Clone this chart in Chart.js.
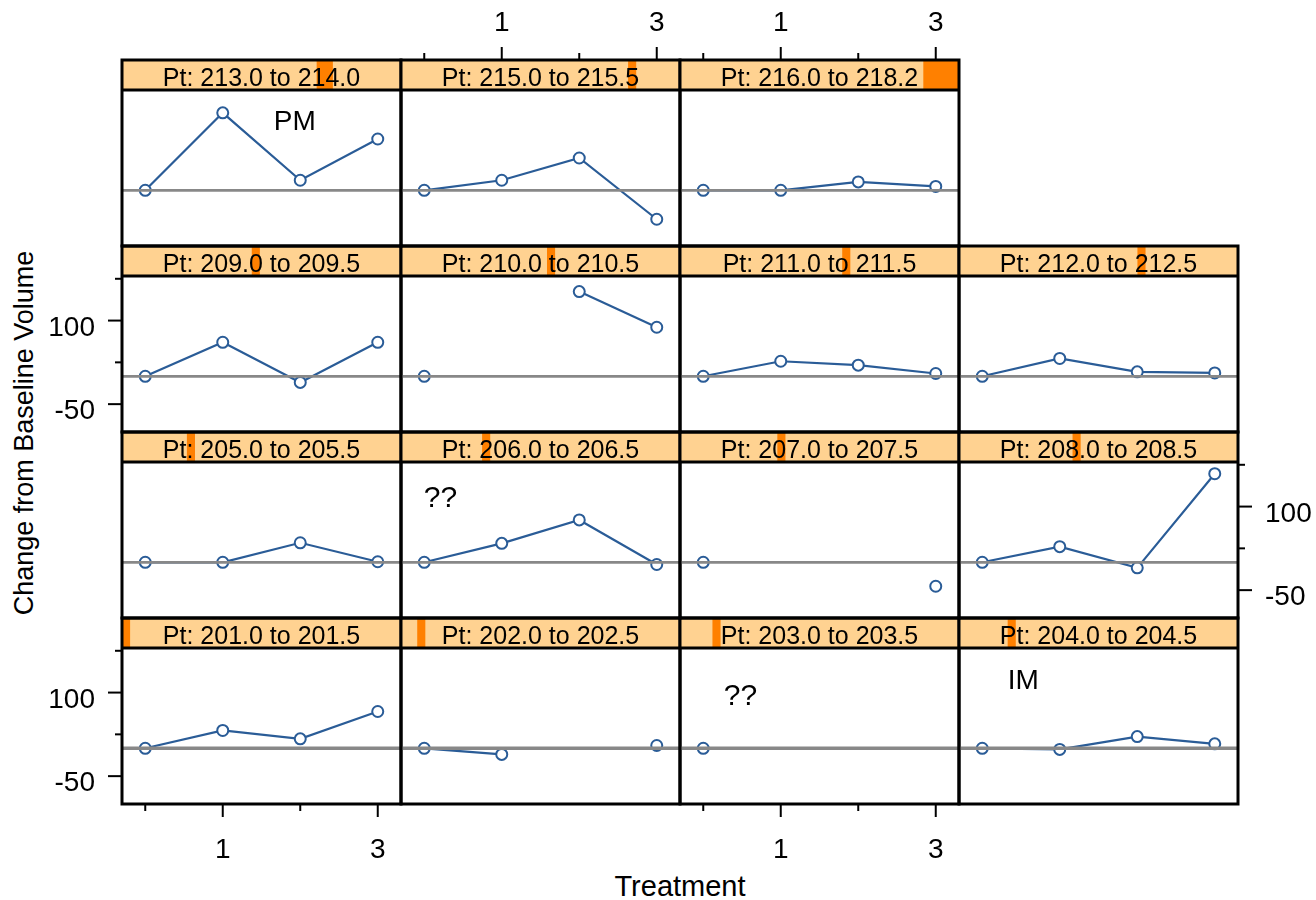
<!DOCTYPE html>
<html>
<head>
<meta charset="utf-8">
<script src="https://cdn.jsdelivr.net/npm/chart.js@4.4.1/dist/chart.umd.min.js"></script>
<style>
  html, body { margin: 0; padding: 0; background: #fff; overflow: hidden; }
  #wrap { position: relative; width: 1316px; height: 900px; }
  #wrap canvas { position: absolute; }
  .axis-title { position: absolute; font-family: 'Liberation Sans', Arial, sans-serif; color: #000; white-space: nowrap; }
  #xTitle { font-size: 29px; line-height: 29px; left: 680px; top: 872px; transform: translateX(-50%); }
  #yTitle { font-size: 27px; line-height: 27px; left: 24px; top: 433px; transform: translate(-50%, -50%) rotate(-90deg); }
</style>
</head>
<body>
<div id="wrap">
  <div class="axis-title" id="xTitle">Treatment</div>
  <div class="axis-title" id="yTitle">Change from Baseline Volume</div>
</div>
<script>
// treatment levels on x, labelled ticks only at 1 and 3
const treatment = [0, 1, 2, 3];
const xTickLabels = ['', '1', '', '3'];
const yTickValues = [-50, 25, 100, 175];
const yTickLabels = ['-50', '', '100', ''];

// shingle intervals for Pt (panel order: bottom-left first, like lattice)
const ptFrom = [201.0, 202.0, 203.0, 204.0, 205.0, 206.0, 207.0, 208.0, 209.0, 210.0, 211.0, 212.0, 213.0, 215.0, 216.0];
const ptTo   = [201.5, 202.5, 203.5, 204.5, 205.5, 206.5, 207.5, 208.5, 209.5, 210.5, 211.5, 212.5, 214.0, 215.5, 218.2];
const ptRange = [201.0, 218.2];

// change from baseline volume at treatment 0..3 (null = missing)
const pt201 = [0, 32, 17, 66];
const pt202 = [0, -11, null, 5];
const pt203 = [0, null, null, null];
const pt204 = [0, -2, 21, 8];
const pt205 = [0, 0, 35, 1];
const pt206 = [0, 34, 76, -4];
const pt207 = [0, null, null, -43];
const pt208 = [0, 28, -10, 159];
const pt209 = [0, 61, -11, 61];
const pt210 = [0, null, 152, 88];
const pt211 = [0, 27, 20, 5];
const pt212 = [0, 32, 8, 6];
const pt213 = [0, 139, 18, 92];
const pt215 = [0, 18, 58, -52];
const pt216 = [0, 0, 15, 7];
const panelValues = [pt201, pt202, pt203, pt204, pt205, pt206, pt207, pt208,
                     pt209, pt210, pt211, pt212, pt213, pt215, pt216];
const refLine = 0;

// text notes written into some panels
const notes = {
  3:  { text: 'IM', x: 0.53, y: 121, size: 28 },
  2:  { text: '??', x: 0.48, y: 92, size: 30 },
  5:  { text: '??', x: 0.21, y: 114, size: 30 },
  12: { text: 'PM', x: 1.93, y: 122, size: 28 }
};
// which outer axes each panel carries
const outerAxes = { 0: ['left', 'bottom'], 2: ['bottom'], 7: ['right'], 8: ['left'], 13: ['top'], 14: ['top'] };

const X_MIN = -0.3, X_MAX = 3.3, Y_MIN = -100, Y_MAX = 180;
const M = 80, STRIP_H = 30, PANEL_H = 156, PANEL_W = 279, LEFT0 = 122;
const stripTops = [618, 432, 246, 60]; // by row counted from bottom
const FONT = '"Liberation Sans", Arial, sans-serif';
const LINE_COL = '#2A5C97', ZERO_COL = '#888888';
const STRIP_BG = '#FFD291', STRIP_FG = '#FF8000';

function drawAxes(chart, sides) {
  const { ctx, chartArea: a, scales } = chart;
  ctx.strokeStyle = '#000';
  ctx.fillStyle = '#000';
  ctx.lineWidth = 2;
  ctx.font = '28px ' + FONT;
  ctx.textBaseline = 'alphabetic';
  const seg = (x1, y1, x2, y2) => { ctx.beginPath(); ctx.moveTo(x1, y1); ctx.lineTo(x2, y2); ctx.stroke(); };
  sides.forEach(side => {
    if (side === 'top' || side === 'bottom') {
      const y0 = side === 'top' ? a.top - STRIP_H : a.bottom;
      const dir = side === 'top' ? -1 : 1;
      ctx.textAlign = 'center';
      treatment.forEach((t, j) => {
        const px = scales.x.getPixelForValue(t);
        seg(px, y0, px, y0 + dir * (xTickLabels[j] ? 13 : 7));
        if (xTickLabels[j]) ctx.fillText(xTickLabels[j], px, side === 'top' ? y0 - 29 : y0 + 54);
      });
    } else {
      const x0 = side === 'left' ? a.left : a.right;
      const dir = side === 'left' ? -1 : 1;
      ctx.textAlign = side === 'left' ? 'right' : 'left';
      yTickValues.forEach((v, j) => {
        const py = scales.y.getPixelForValue(v);
        seg(x0, py, x0 + dir * (yTickLabels[j] ? 14 : 7), py);
        if (yTickLabels[j]) ctx.fillText(yTickLabels[j], x0 + dir * 27, py + 15);
      });
    }
  });
}

const latticePanel = {
  id: 'latticePanel',
  afterDraw(chart, args, opts) {
    const { ctx, chartArea: a, scales } = chart;
    const w = a.right - a.left;
    const sTop = a.top - STRIP_H;
    ctx.save();
    // strip with shingle marker
    ctx.fillStyle = STRIP_BG;
    ctx.fillRect(a.left, sTop, w, STRIP_H);
    const span = ptRange[1] - ptRange[0];
    ctx.fillStyle = STRIP_FG;
    ctx.fillRect(a.left + (opts.from - ptRange[0]) / span * w, sTop, (opts.to - opts.from) / span * w, STRIP_H);
    ctx.fillStyle = '#000';
    ctx.font = '25px ' + FONT;
    ctx.textAlign = 'center';
    ctx.textBaseline = 'alphabetic';
    ctx.fillText('Pt: ' + opts.from.toFixed(1) + ' to ' + opts.to.toFixed(1), a.left + w / 2, sTop + 26);
    // borders
    ctx.strokeStyle = '#000';
    ctx.lineWidth = 3;
    ctx.strokeRect(a.left, sTop, w, a.bottom - sTop);
    ctx.beginPath();
    ctx.moveTo(a.left, a.top);
    ctx.lineTo(a.right, a.top);
    ctx.stroke();
    // note text
    if (opts.note) {
      ctx.font = opts.note.size + 'px ' + FONT;
      ctx.textBaseline = 'middle';
      ctx.fillText(opts.note.text, scales.x.getPixelForValue(opts.note.x), scales.y.getPixelForValue(opts.note.y));
    }
    if (opts.axes) drawAxes(chart, opts.axes);
    ctx.restore();
  }
};

const wrap = document.getElementById('wrap');
panelValues.forEach((vals, i) => {
  const row = Math.floor(i / 4), col = i % 4;
  const canvas = document.createElement('canvas');
  const cw = PANEL_W + 2 * M, ch = STRIP_H + PANEL_H + 2 * M;
  canvas.width = cw;
  canvas.height = ch;
  canvas.style.width = cw + 'px';
  canvas.style.height = ch + 'px';
  canvas.style.left = (LEFT0 + PANEL_W * col - M) + 'px';
  canvas.style.top = (stripTops[row] - M) + 'px';
  wrap.appendChild(canvas);

  new Chart(canvas, {
    type: 'line',
    data: {
      datasets: [
        {
          data: [{ x: X_MIN, y: refLine }, { x: X_MAX, y: refLine }],
          borderColor: ZERO_COL,
          borderWidth: i < 4 ? 3.5 : 2.8,
          pointRadius: 0,
          order: 0
        },
        {
          data: treatment.map((t, j) => ({ x: t, y: vals[j] })),
          borderColor: LINE_COL,
          borderWidth: 2.2,
          pointRadius: 5.5,
          pointBorderWidth: 2,
          pointBackgroundColor: '#fff',
          pointBorderColor: LINE_COL,
          spanGaps: false,
          order: 1
        }
      ]
    },
    options: {
      responsive: false,
      animation: false,
      devicePixelRatio: 1,
      events: [],
      layout: { padding: { left: M, right: M, top: M + STRIP_H, bottom: M } },
      scales: {
        x: { type: 'linear', min: X_MIN, max: X_MAX, display: false },
        y: { type: 'linear', min: Y_MIN, max: Y_MAX, display: false }
      },
      plugins: {
        legend: { display: false },
        tooltip: { enabled: false },
        latticePanel: { from: ptFrom[i], to: ptTo[i], note: notes[i], axes: outerAxes[i] }
      }
    },
    plugins: [latticePanel]
  });
});
</script>
</body>
</html>
